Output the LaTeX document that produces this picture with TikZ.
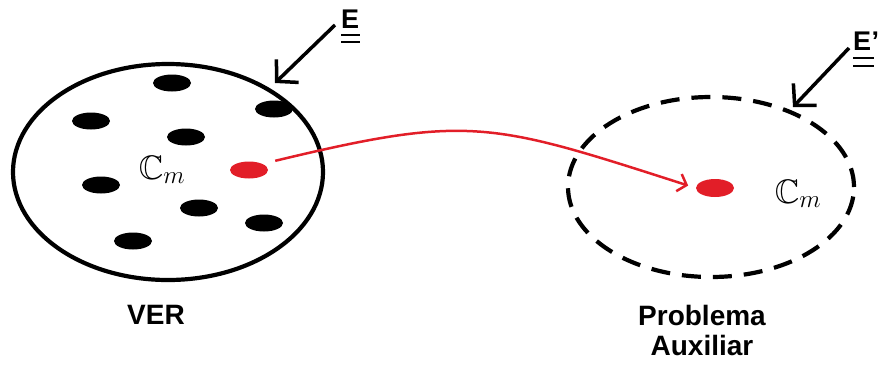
\documentclass[tikz,border=0pt]{standalone}
\usepackage{fontspec}
\usepackage{amssymb}
\setsansfont{Liberation Sans}
\usetikzlibrary{arrows.meta,shapes.geometric}
\definecolor{myred}{RGB}{226,30,40}
\begin{document}
\begin{tikzpicture}[x=1pt,y=-1pt,
  blob/.style={ellipse, fill=black, minimum width=38pt, minimum height=17pt, inner sep=0pt},
  redblob/.style={blob, fill=myred},
  setshape/.style={ellipse, draw, line width=4.2pt, inner sep=0pt},
  lbl/.style={font=\sffamily\bfseries\fontsize{28}{30}\selectfont, inner sep=0pt, align=center},
  elbl/.style={font=\sffamily\bfseries\fontsize{27}{30}\selectfont, inner sep=0pt, anchor=north west},
  ptr/.style={line width=3.5pt, -{Straight Barb[length=15pt,width=32pt,line width=3.5pt]}},
  redarr/.style={myred, line width=2.5pt, -{Straight Barb[length=8pt,width=18pt,line width=2.5pt]}},
  uline/.style={line width=2.8pt},
  cmlbl/.style={font=\fontsize{34}{36}\selectfont, inner sep=0pt}
]
\useasboundingbox (0,0) rectangle (878,365);

% sets
\node[setshape, minimum width=310pt, minimum height=216pt] (L) at (168,172) {};
\node[setshape, dash pattern=on 19pt off 12pt, minimum width=286pt, minimum height=180pt] (R) at (711,187) {};

% black elements
\node[blob] (b1) at (172,83) {};
\node[blob] (b2) at (91,121) {};
\node[blob] (b3) at (186,137) {};
\node[blob] (b4) at (274,109) {};
\node[blob] (b5) at (101,185) {};
\node[blob] (b6) at (199,208) {};
\node[blob] (b7) at (264,223) {};
\node[blob] (b8) at (133,241) {};

% red elements
\node[redblob] (rA) at (249,170) {};
\node[redblob, minimum height=18pt] (rB) at (715,188) {};

% C_m labels
\node[cmlbl] (cL) at (162,170) {$\mathbb{C}_m$};
\node[cmlbl] (cR) at (798,194) {$\mathbb{C}_m$};

% red connector
\draw[redarr, shorten <=13pt, shorten >=8pt] (rA.north east) .. controls (470,114) and (490,122) .. (rB.west);

% E labels
\node[elbl] (E1) at (341,10) {E};
\draw[uline] ([yshift=-6pt]E1.south west) -- ([yshift=-6pt,xshift=1pt]E1.south east);
\draw[uline] ([yshift=-13pt]E1.south west) -- ([yshift=-13pt,xshift=1pt]E1.south east);

\node[elbl] (E2) at (853,32) {E};
\node[elbl] (E2p) at (E2.north east) {'};
\draw[uline] ([yshift=-7pt]E2.south west) -- ([yshift=-7pt,xshift=3pt]E2.south east);
\draw[uline] ([yshift=-15pt]E2.south west) -- ([yshift=-15pt,xshift=3pt]E2.south east);

% pointer arrows
\coordinate (p1s) at (335,25);
\coordinate (p1e) at (275,83);
\coordinate (p2s) at (849,48);
\coordinate (p2e) at (793,107);
\draw[ptr] (p1s) -- (p1e);
\draw[ptr] (p2s) -- (p2e);

% captions
\node[lbl, anchor=north] (ver) at (156,305) {VER};
\node[lbl, anchor=north] (aux) at (702,305) {Problema\\Auxiliar};
\end{tikzpicture}
\end{document}
